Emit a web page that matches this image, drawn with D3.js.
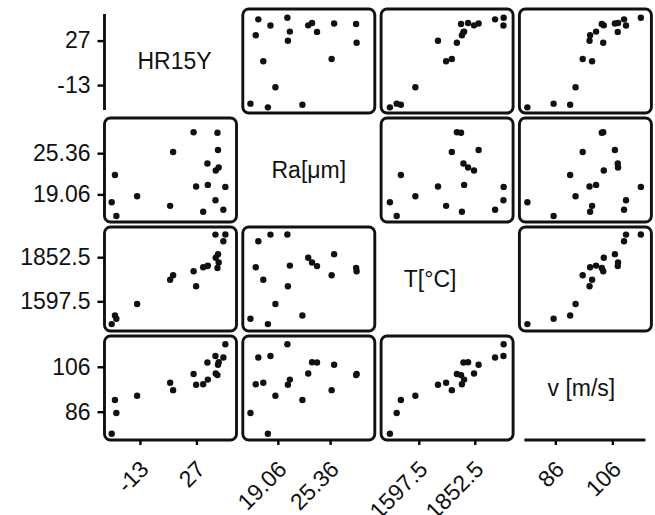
<!DOCTYPE html>
<html>
<head>
<meta charset="utf-8">
<script src="https://cdn.jsdelivr.net/npm/d3@7"></script>
<style>
  body { margin: 0; background: #fff; }
  svg text { font-family: "Liberation Sans", Arial, Helvetica, sans-serif; fill: #111; }
</style>
</head>
<body>
<svg width="655" height="515"></svg>
<script>
// variables shown on the diagonal
const labels = ['HR15Y', 'Ra[\u03bcm]', 'T[\u00b0C]', 'v [m/s]'];

// one value per specimen, same order in every array
const hr15y = [-33.0, -30.7, -29.7, -15.0, 8.4, 10.5, 25.0, 26.8, 31.8, 34.8, 35.1, 40.5, 40.7, 41.9, 42.3, 42.8, 46.1, 47.5];
const ra = [17.86, 22.02, 15.76, 18.77, 17.31, 25.54, 28.55, 20.27, 16.4, 23.78, 20.51, 18.17, 22.72, 28.49, 25.84, 23.18, 16.71, 20.21];
const temp = [1466, 1516, 1497, 1582, 1722, 1748, 1771, 1685, 1794, 1801, 1804, 1983, 1849, 1790, 1870, 1822, 1945, 1984];
const speed = [76.2, 91.2, 85.4, 93.1, 98.9, 95.6, 102.8, 98.0, 98.2, 107.9, 100.3, 110.8, 103.0, 102.3, 106.9, 108.0, 110.1, 116.0];

const domains = [[-38.1, 55.4], [14.84, 30.74], [1426, 2027], [73.4, 119.7]];
const tickValues = [[-13, 27], [19.06, 25.36], [1597.5, 1852.5], [86, 106]];
const tickLabels = [['-13', '27'], ['19.06', '25.36'], ['1597.5', '1852.5'], ['86', '106']];

const vars = [hr15y, ra, temp, speed];
const n = vars.length;

const gridLeft = 104.5, gridTop = 9, cellW = 132, cellH = 104, stepX = 138.3, stepY = 109;
const colX = j => gridLeft + j * stepX;
const rowY = i => gridTop + i * stepY;

const xs = vars.map((_, k) => d3.scaleLinear().domain(domains[k]).range([colX(k), colX(k) + cellW]));
const ys = vars.map((_, k) => d3.scaleLinear().domain(domains[k]).range([rowY(k) + cellH, rowY(k)]));

const svg = d3.select('svg');

const cells = d3.cross(d3.range(n), d3.range(n)).map(([i, j]) => ({ i, j }));

const panelG = svg.append('g')
  .selectAll('g')
  .data(cells.filter(c => c.i !== c.j))
  .enter()
  .append('g');

panelG.append('rect')
  .attr('x', d => colX(d.j))
  .attr('y', d => rowY(d.i))
  .attr('width', cellW)
  .attr('height', cellH)
  .attr('rx', 6)
  .attr('fill', 'none')
  .attr('stroke', '#111')
  .attr('stroke-width', 2.9);

panelG.each(function (c) {
  d3.select(this)
    .selectAll('circle')
    .data(d3.range(hr15y.length))
    .enter()
    .append('circle')
    .attr('cx', k => xs[c.j](vars[c.j][k]))
    .attr('cy', k => ys[c.i](vars[c.i][k]))
    .attr('r', 3.2)
    .attr('fill', '#111');
});

// labels in the diagonal cells
const labelShift = [4, 0, -17, -4];
svg.append('g')
  .selectAll('text')
  .data(labels)
  .enter()
  .append('text')
  .attr('x', (_, k) => colX(k) + cellW / 2 + labelShift[k])
  .attr('y', (_, k) => rowY(k) + cellH / 2)
  .attr('dy', '0.36em')
  .attr('text-anchor', 'middle')
  .attr('font-size', 23)
  .text(d => d);

// left axes
for (let i = 0; i < n; i++) {
  const g = svg.append('g')
    .attr('transform', `translate(${colX(0)}, 0)`)
    .call(d3.axisLeft(ys[i]).tickValues(tickValues[i]).tickFormat((_, k) => tickLabels[i][k]).tickSize(7).tickSizeOuter(0));
  g.select('.domain').remove();
  g.selectAll('line').attr('stroke-width', 2.4);
  g.selectAll('text').attr('font-size', 23).attr('x', -14).attr('fill', '#111');
  g.attr('font-family', null);
}

// bottom axes
for (let j = 0; j < n; j++) {
  const g = svg.append('g')
    .attr('transform', `translate(0, ${rowY(n - 1) + cellH})`)
    .call(d3.axisBottom(xs[j]).tickValues(tickValues[j]).tickFormat((_, k) => tickLabels[j][k]).tickSize(5).tickSizeOuter(0));
  g.select('.domain').remove();
  g.selectAll('line').attr('stroke-width', 2.4);
  g.selectAll('text')
    .attr('font-size', 23)
    .attr('y', 0)
    .attr('dy', '0.35em')
    .attr('text-anchor', 'end')
    .attr('transform', 'translate(4, 25) rotate(-45)')
    .attr('fill', '#111');
  g.attr('font-family', null);
}

// axis lines of the two corner diagonal cells
svg.append('line')
  .attr('x1', colX(0)).attr('x2', colX(0))
  .attr('y1', rowY(0) + 5).attr('y2', rowY(0) + cellH - 3)
  .attr('stroke', '#111').attr('stroke-width', 2.9);
svg.append('line')
  .attr('x1', colX(n - 1) + 5).attr('x2', colX(n - 1) + cellW - 6)
  .attr('y1', rowY(n - 1) + cellH).attr('y2', rowY(n - 1) + cellH)
  .attr('stroke', '#111').attr('stroke-width', 2.9);
</script>
</body>
</html>
